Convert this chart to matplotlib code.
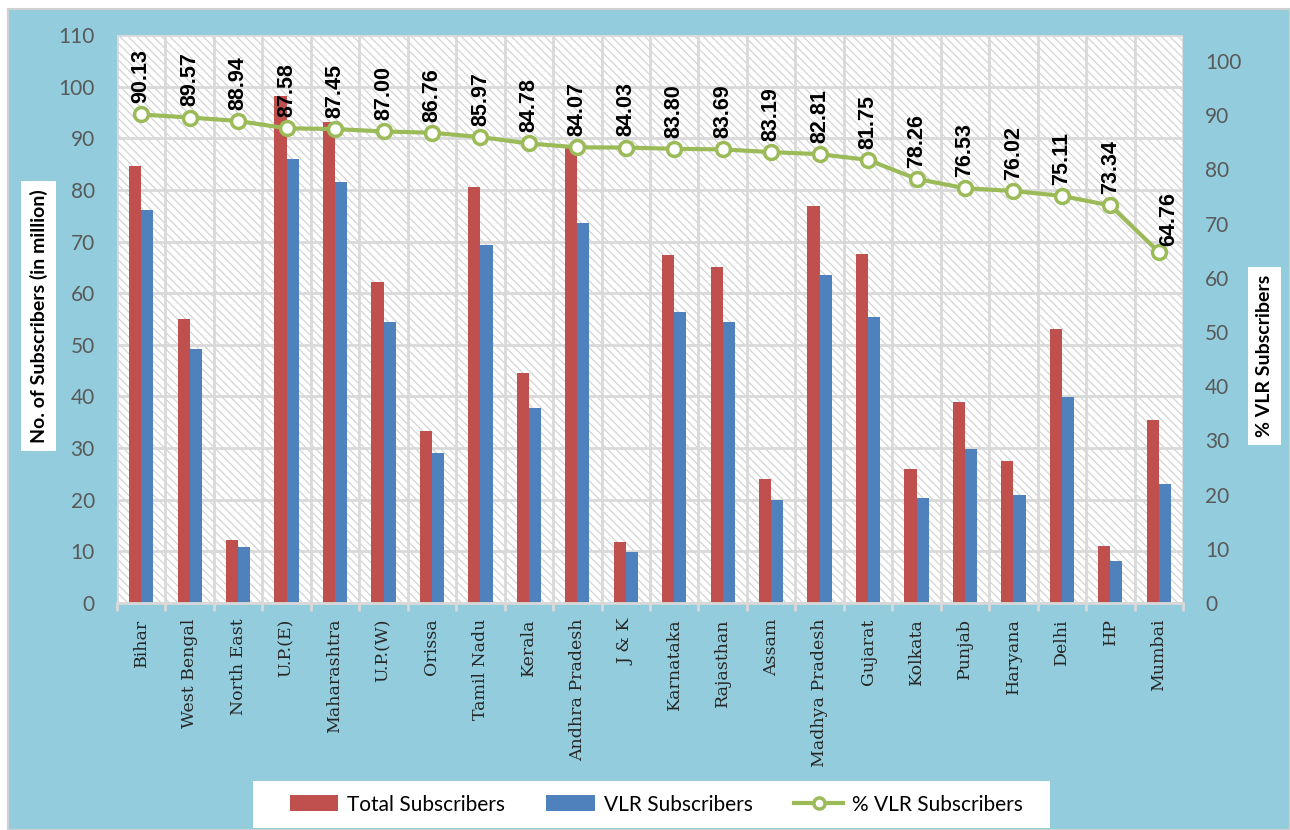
import matplotlib
matplotlib.use("Agg")
import matplotlib.pyplot as plt
from matplotlib.patches import Rectangle
from matplotlib.lines import Line2D
from matplotlib.patches import Patch
import numpy as np

categories = ["Bihar", "West Bengal", "North East", "U.P.(E)", "Maharashtra", "U.P.(W)",
              "Orissa", "Tamil Nadu", "Kerala", "Andhra Pradesh", "J & K", "Karnataka",
              "Rajasthan", "Assam", "Madhya Pradesh", "Gujarat", "Kolkata", "Punjab",
              "Haryana", "Delhi", "HP", "Mumbai"]
total_subs = [84.6, 55.0, 12.2, 98.2, 93.1, 62.2, 33.3, 80.5, 44.5, 88.1, 11.8, 67.3,
              65.1, 24.0, 76.8, 67.5, 26.0, 39.0, 27.5, 53.0, 11.0, 35.5]
vlr_subs = [76.2, 49.2, 10.8, 86.0, 81.5, 54.5, 29.0, 69.3, 37.8, 73.5, 9.8, 56.4,
            54.5, 20.0, 63.6, 55.4, 20.4, 29.9, 21.0, 39.8, 8.1, 23.1]
pct_vlr = [90.13, 89.57, 88.94, 87.58, 87.45, 87.00, 86.76, 85.97, 84.78, 84.07, 84.03,
           83.80, 83.69, 83.19, 82.81, 81.75, 78.26, 76.53, 76.02, 75.11, 73.34, 64.76]
left_ticks = list(range(0, 111, 10))
right_ticks = list(range(0, 101, 10))

RED = "#C0504D"
BLUE = "#4F81BD"
GREEN = "#9BBB59"
BG = "#93CDDD"
GRID = "#D9D9D9"
TICKC = "#595959"

plt.rcParams['hatch.color'] = "#D0D0D0"
plt.rcParams['hatch.linewidth'] = 0.8

W, H = 1290, 830
fig = plt.figure(figsize=(W / 100, H / 100), dpi=100)
fig.patch.set_facecolor("white")
fig.add_artist(Rectangle((8 / W, 0), (W - 8) / W, (H - 9) / H, transform=fig.transFigure,
                         facecolor=BG, edgecolor="#D0D0D0", linewidth=1.5, zorder=0))

L, R, T, B = 117, 1183, 35, 603
ax = fig.add_axes([L / W, 1 - B / H, (R - L) / W, (B - T) / H])
ax.patch.set_facecolor("white")
ax.add_patch(Rectangle((0, 0), 1, 1, transform=ax.transAxes, facecolor="white",
                       edgecolor="#D0D0D0", hatch="\\\\\\\\", linewidth=0, zorder=0.1))

x = np.arange(len(categories))
bw = 0.25
ax.bar(x - bw / 2, total_subs, width=bw, color=RED, zorder=2)
ax.bar(x + bw / 2, vlr_subs, width=bw, color=BLUE, zorder=2)

ax.set_xlim(-0.5, len(categories) - 0.5)
ax.set_ylim(0, 110)
ax.set_yticks(left_ticks)
ax.set_xticks(x)
ax.set_xticklabels(categories, rotation=90, family="DejaVu Serif", fontsize=12.5,
                   color="#262626")
ax.set_xticks(np.arange(-0.5, len(categories)), minor=True)
ax.tick_params(axis="x", which="major", length=0, pad=11)
ax.tick_params(axis="x", which="minor", length=6, width=2, color=GRID)
ax.tick_params(axis="y", length=0, labelsize=15, labelcolor=TICKC, pad=16)
for lab in ax.get_yticklabels():
    lab.set_family("Lato")
ax.set_axisbelow(True)
ax.grid(axis="y", which="major", color=GRID, linewidth=2, zorder=0.5)
ax.grid(axis="x", which="minor", color=GRID, linewidth=2, zorder=0.5)
for s in ["top", "right", "left"]:
    ax.spines[s].set_visible(False)
ax.spines["bottom"].set_color(GRID)
ax.spines["bottom"].set_linewidth(2)

ax2 = ax.twinx()
ax2.set_ylim(0, (B - T) / 5.42)
ax2.set_yticks(right_ticks)
ax2.tick_params(axis="y", length=0, labelsize=15, labelcolor=TICKC, pad=16)
for lab in ax2.get_yticklabels():
    lab.set_family("Lato")
for s in ax2.spines.values():
    s.set_visible(False)
ax2.plot(x, pct_vlr, color=GREEN, linewidth=3, marker="o", markersize=10,
         markerfacecolor="white", markeredgecolor=GREEN, markeredgewidth=2.5, zorder=5)

for i, v in enumerate(pct_vlr):
    if i == len(pct_vlr) - 1:
        off = (7, 4)
    else:
        off = (0, 8)
    ax2.annotate(f"{v:.2f}", (x[i], v), xytext=off, textcoords="offset points",
                 rotation=90, ha="center", va="bottom", fontsize=15.5,
                 fontweight="bold", family="Liberation Sans", color="black", zorder=6)

fig.text(38.5 / W, 1 - 316 / H, "No. of Subscribers (in million)", rotation=90,
         ha="center", va="center", fontsize=14, fontweight="bold", family="Lato",
         bbox=dict(facecolor="white", edgecolor="none", pad=6))
fig.text(1264.5 / W, 1 - 356 / H, "% VLR Subscribers", rotation=90,
         ha="center", va="center", fontsize=14, fontweight="bold", family="Lato",
         bbox=dict(facecolor="white", edgecolor="none", pad=6))

fig.add_artist(Rectangle((253 / W, 2 / H), (1050 - 253) / W, (828 - 781) / H,
                         transform=fig.transFigure, facecolor="white", edgecolor="none",
                         zorder=1))
handles = [Patch(facecolor=RED, label="Total Subscribers"),
           Patch(facecolor=BLUE, label="VLR Subscribers"),
           Line2D([], [], color=GREEN, linewidth=3, marker="o", markersize=8,
                  markerfacecolor="white", markeredgecolor=GREEN, markeredgewidth=2.5,
                  label="% VLR Subscribers")]
leg = fig.legend(handles=handles, loc="center", bbox_to_anchor=(656 / W, 1 - 804.5 / H),
                 ncol=3, frameon=False, prop={"family": "Lato", "size": 15},
                 handlelength=2.35, handleheight=0.8, columnspacing=2.0, handletextpad=0.4)
leg.set_zorder(2)

fig.savefig("out.png", dpi=100)
